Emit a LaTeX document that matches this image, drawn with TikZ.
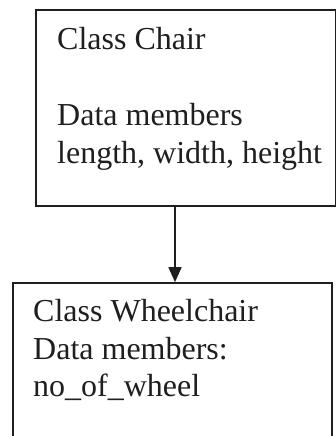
\documentclass[tikz,border=0pt]{standalone}
\usepackage{fontspec}
\setmainfont{Liberation Serif}
\usetikzlibrary{arrows.meta}
\begin{document}
\begin{tikzpicture}[x=1pt,y=1pt,
  classbox/.style={draw=black!88, line width=1.7pt, inner sep=0pt, fill=none},
  txt/.style={anchor=base west, inner sep=0pt, text=black!88, font=\fontsize{32}{38}\selectfont},
  inherit/.style={draw=black!88, line width=1.6pt, -{Triangle[length=15pt,width=13pt]}}]
\useasboundingbox (0,0) rectangle (336,436);
\fill[white] (0,0) rectangle (336,436);
\node[classbox, minimum width=300pt, minimum height=196pt] (chair) at (186,328) {};
\node[classbox, minimum width=319pt, minimum height=162pt] (wheel) at (172.5,72) {};
\node[txt] (c1) at (57,386) {Class Chair};
\node[txt] (c2) at (57,310) {Data members};
\node[txt] (c3) at (57,272) {length, width, height};
\node[txt] (w1) at (33,114) {Class Wheelchair};
\node[txt] (w2) at (33,76) {Data members:};
\node[txt] (w3) at (33,39) {no\_of\_wheel};
\coordinate (ax) at (175,0);
\draw[inherit] (chair.south -| ax) -- (wheel.north -| ax);
\end{tikzpicture}
\end{document}
